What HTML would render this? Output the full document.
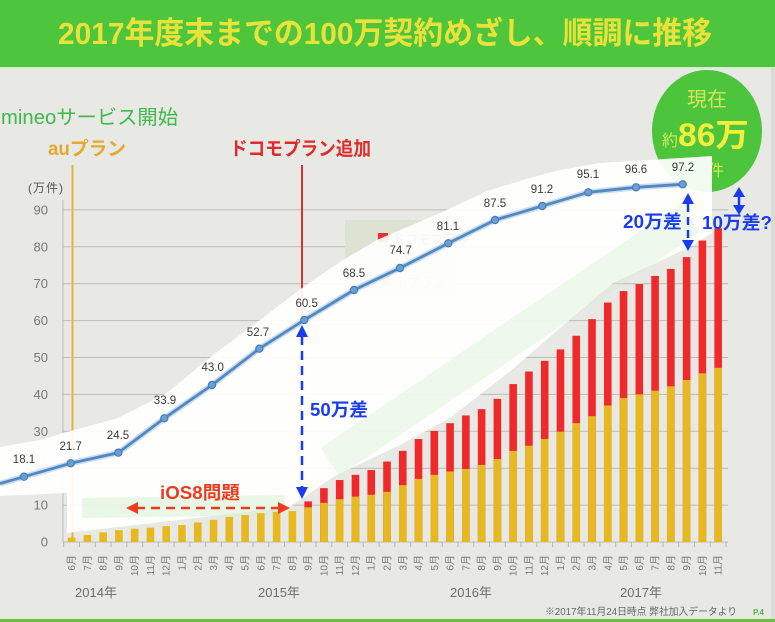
<!DOCTYPE html>
<html><head><meta charset="utf-8"><style>
html,body{margin:0;padding:0;background:#e8e8e4;}
svg{display:block;}
text{font-family:"Liberation Sans","Noto Sans CJK JP",sans-serif;}
</style></head><body>
<svg width="775" height="622" viewBox="0 0 775 622" xmlns="http://www.w3.org/2000/svg">
<rect x="0" y="0" width="775" height="622" fill="#e8e8e4"/>
<rect x="0" y="0" width="775" height="67" fill="#4dc53c"/>
<rect x="0" y="67" width="775" height="1.5" fill="#d8ecd0"/>
<text x="58" y="44" font-size="31" font-weight="bold" fill="#e8e23a" textLength="654" lengthAdjust="spacingAndGlyphs">2017年度末までの100万契約めざし、順調に推移</text>
<rect x="0" y="619" width="775" height="3" fill="#6cc040"/>
<rect x="771" y="68" width="4" height="551" fill="#dcdcd6"/>

<!-- gridlines -->
<g stroke="#bdbdb8" stroke-width="1">
<line x1="63" y1="209.9" x2="728" y2="209.9"/>
<line x1="63" y1="246.8" x2="728" y2="246.8"/>
<line x1="63" y1="283.7" x2="728" y2="283.7"/>
<line x1="63" y1="320.6" x2="728" y2="320.6"/>
<line x1="63" y1="357.5" x2="728" y2="357.5"/>
<line x1="63" y1="394.4" x2="728" y2="394.4"/>
<line x1="63" y1="431.3" x2="728" y2="431.3"/>
<line x1="63" y1="468.2" x2="728" y2="468.2"/>
<line x1="63" y1="505.1" x2="728" y2="505.1"/>
<line x1="63" y1="542" x2="728" y2="542"/>
<line x1="63" y1="200" x2="63" y2="542"/>
</g>
<g font-size="13" fill="#777" text-anchor="end">
<text x="48" y="214.4">90</text>
<text x="48" y="251.3">80</text>
<text x="48" y="288.2">70</text>
<text x="48" y="325.1">60</text>
<text x="48" y="362">50</text>
<text x="48" y="398.9">40</text>
<text x="48" y="435.8">30</text>
<text x="48" y="472.7">20</text>
<text x="48" y="509.6">10</text>
<text x="48" y="546.5">0</text>
</g>
<text x="28" y="192" font-size="12" fill="#555" textLength="35">(万件)</text>

<!-- event lines -->
<line x1="72.5" y1="165" x2="72.5" y2="542" stroke="#e3b440" stroke-width="2"/>
<line x1="302" y1="165" x2="302" y2="320" stroke="#e03030" stroke-width="2"/>

<!-- legend box (faint) -->
<rect x="345" y="220" width="110" height="75" fill="#dde2d3"/>
<rect x="378" y="233" width="10" height="9" fill="#f03030"/>
<text x="392" y="244" font-size="13" fill="#f06a6a">ドコモプラン</text>
<rect x="380" y="276" width="9" height="9" fill="#e8b820"/>
<text x="392" y="287" font-size="13" fill="#e8b860">auプラン</text>

<!-- circle -->
<ellipse cx="707" cy="131" rx="55" ry="61" fill="#4cc43c"/>
<text x="687" y="106" font-size="20" fill="#d6e85a" textLength="40">現在</text>
<text x="662" y="146" font-size="16" fill="#d6e85a">約</text>
<text x="678" y="146" font-size="32" font-weight="bold" fill="#f2f03c" textLength="71" lengthAdjust="spacingAndGlyphs">86万</text>
<text x="708" y="176" font-size="16" fill="#d6e85a">件</text>

<!-- white overlay -->
<polygon points="0,447 40,440 67,432 118,418 167,393 213,355 260,320 302,288 340,262 377,240 447,210 487,191 533,177 560,170 600,163 712,156 712,233 700,241 690,247 613,283 560,328 513,369 450,418 400,445 360,464 333,477 290,507 67,533 67,493 0,496" fill="#ffffff" fill-opacity="0.92"/>
<line x1="82" y1="508" x2="285" y2="505" stroke="#d4efcf" stroke-width="20" stroke-opacity="0.5"/>
<line x1="330" y1="462" x2="690" y2="218" stroke="#d4efcf" stroke-width="34" stroke-opacity="0.35"/>

<!-- bars: red full total, yellow au on top -->
<g fill="#f02a2a">
<rect x="304.35" y="501.41" width="7.6" height="40.59"/>
<rect x="320.12" y="488.13" width="7.6" height="53.87"/>
<rect x="335.89" y="480.01" width="7.6" height="61.99"/>
<rect x="351.66" y="474.84" width="7.6" height="67.16"/>
<rect x="367.43" y="470.05" width="7.6" height="71.95"/>
<rect x="383.2" y="461.56" width="7.6" height="80.44"/>
<rect x="398.97" y="450.86" width="7.6" height="91.14"/>
<rect x="414.74" y="439.05" width="7.6" height="102.95"/>
<rect x="430.51" y="430.93" width="7.6" height="111.07"/>
<rect x="446.28" y="423.18" width="7.6" height="118.82"/>
<rect x="462.05" y="415.43" width="7.6" height="126.57"/>
<rect x="477.82" y="409.16" width="7.6" height="132.84"/>
<rect x="493.59" y="398.83" width="7.6" height="143.17"/>
<rect x="509.36" y="384.07" width="7.6" height="157.93"/>
<rect x="525.13" y="371.52" width="7.6" height="170.48"/>
<rect x="540.9" y="360.82" width="7.6" height="181.18"/>
<rect x="556.67" y="349.38" width="7.6" height="192.62"/>
<rect x="572.44" y="335.73" width="7.6" height="206.27"/>
<rect x="588.21" y="319.12" width="7.6" height="222.88"/>
<rect x="603.98" y="302.52" width="7.6" height="239.48"/>
<rect x="619.75" y="291.08" width="7.6" height="250.92"/>
<rect x="635.52" y="284.07" width="7.6" height="257.93"/>
<rect x="651.29" y="275.95" width="7.6" height="266.05"/>
<rect x="667.06" y="268.94" width="7.6" height="273.06"/>
<rect x="682.83" y="257.13" width="7.6" height="284.87"/>
<rect x="698.6" y="240.53" width="7.6" height="301.47"/>
<rect x="714.37" y="228.35" width="7.6" height="313.65"/>
</g>
<g fill="#e8b820">
<rect x="67.8" y="537.57" width="7.6" height="4.43"/>
<rect x="83.57" y="534.99" width="7.6" height="7.01"/>
<rect x="99.34" y="532.41" width="7.6" height="9.59"/>
<rect x="115.11" y="530.19" width="7.6" height="11.81"/>
<rect x="130.88" y="528.72" width="7.6" height="13.28"/>
<rect x="146.65" y="527.61" width="7.6" height="14.39"/>
<rect x="162.42" y="526.13" width="7.6" height="15.87"/>
<rect x="178.19" y="525.03" width="7.6" height="16.97"/>
<rect x="193.96" y="522.44" width="7.6" height="19.56"/>
<rect x="209.73" y="519.86" width="7.6" height="22.14"/>
<rect x="225.5" y="516.91" width="7.6" height="25.09"/>
<rect x="241.27" y="515.06" width="7.6" height="26.94"/>
<rect x="257.04" y="513.22" width="7.6" height="28.78"/>
<rect x="272.81" y="511.74" width="7.6" height="30.26"/>
<rect x="288.58" y="511.0" width="7.6" height="31.0"/>
<rect x="304.35" y="507.31" width="7.6" height="34.69"/>
<rect x="320.12" y="502.89" width="7.6" height="39.11"/>
<rect x="335.89" y="499.2" width="7.6" height="42.8"/>
<rect x="351.66" y="496.61" width="7.6" height="45.39"/>
<rect x="367.43" y="494.77" width="7.6" height="47.23"/>
<rect x="383.2" y="491.82" width="7.6" height="50.18"/>
<rect x="398.97" y="485.17" width="7.6" height="56.83"/>
<rect x="414.74" y="478.9" width="7.6" height="63.1"/>
<rect x="430.51" y="474.84" width="7.6" height="67.16"/>
<rect x="446.28" y="471.52" width="7.6" height="70.48"/>
<rect x="462.05" y="468.94" width="7.6" height="73.06"/>
<rect x="477.82" y="464.88" width="7.6" height="77.12"/>
<rect x="493.59" y="458.98" width="7.6" height="83.02"/>
<rect x="509.36" y="450.86" width="7.6" height="91.14"/>
<rect x="525.13" y="445.69" width="7.6" height="96.31"/>
<rect x="540.9" y="439.05" width="7.6" height="102.95"/>
<rect x="556.67" y="431.67" width="7.6" height="110.33"/>
<rect x="572.44" y="423.18" width="7.6" height="118.82"/>
<rect x="588.21" y="416.17" width="7.6" height="125.83"/>
<rect x="603.98" y="405.47" width="7.6" height="136.53"/>
<rect x="619.75" y="398.09" width="7.6" height="143.91"/>
<rect x="635.52" y="394.4" width="7.6" height="147.6"/>
<rect x="651.29" y="390.71" width="7.6" height="151.29"/>
<rect x="667.06" y="386.28" width="7.6" height="155.72"/>
<rect x="682.83" y="380.01" width="7.6" height="161.99"/>
<rect x="698.6" y="373.37" width="7.6" height="168.63"/>
<rect x="714.37" y="367.83" width="7.6" height="174.17"/>
</g>

<!-- x axis ticks -->
<g stroke="#b5b5b0" stroke-width="1">
<line x1="63.7" y1="542" x2="63.7" y2="547"/><line x1="79.5" y1="542" x2="79.5" y2="547"/><line x1="95.3" y1="542" x2="95.3" y2="547"/><line x1="111" y1="542" x2="111" y2="547"/><line x1="126.8" y1="542" x2="126.8" y2="547"/><line x1="142.6" y1="542" x2="142.6" y2="547"/><line x1="158.3" y1="542" x2="158.3" y2="547"/><line x1="174.1" y1="542" x2="174.1" y2="547"/><line x1="189.9" y1="542" x2="189.9" y2="547"/><line x1="205.6" y1="542" x2="205.6" y2="547"/><line x1="221.4" y1="542" x2="221.4" y2="547"/><line x1="237.2" y1="542" x2="237.2" y2="547"/><line x1="253" y1="542" x2="253" y2="547"/><line x1="268.7" y1="542" x2="268.7" y2="547"/><line x1="284.5" y1="542" x2="284.5" y2="547"/><line x1="300.3" y1="542" x2="300.3" y2="547"/><line x1="316" y1="542" x2="316" y2="547"/><line x1="331.8" y1="542" x2="331.8" y2="547"/><line x1="347.6" y1="542" x2="347.6" y2="547"/><line x1="363.3" y1="542" x2="363.3" y2="547"/><line x1="379.1" y1="542" x2="379.1" y2="547"/><line x1="394.9" y1="542" x2="394.9" y2="547"/><line x1="410.7" y1="542" x2="410.7" y2="547"/><line x1="426.4" y1="542" x2="426.4" y2="547"/><line x1="442.2" y1="542" x2="442.2" y2="547"/><line x1="458" y1="542" x2="458" y2="547"/><line x1="473.7" y1="542" x2="473.7" y2="547"/><line x1="489.5" y1="542" x2="489.5" y2="547"/><line x1="505.3" y1="542" x2="505.3" y2="547"/><line x1="521" y1="542" x2="521" y2="547"/><line x1="536.8" y1="542" x2="536.8" y2="547"/><line x1="552.6" y1="542" x2="552.6" y2="547"/><line x1="568.4" y1="542" x2="568.4" y2="547"/><line x1="584.1" y1="542" x2="584.1" y2="547"/><line x1="599.9" y1="542" x2="599.9" y2="547"/><line x1="615.7" y1="542" x2="615.7" y2="547"/><line x1="631.4" y1="542" x2="631.4" y2="547"/><line x1="647.2" y1="542" x2="647.2" y2="547"/><line x1="663" y1="542" x2="663" y2="547"/><line x1="678.7" y1="542" x2="678.7" y2="547"/><line x1="694.5" y1="542" x2="694.5" y2="547"/><line x1="710.3" y1="542" x2="710.3" y2="547"/><line x1="726" y1="542" x2="726" y2="547"/>
</g>

<!-- line series -->
<polyline points="0,483.6 24,476.7 70.7,463.3 118.3,452.7 164.3,418.3 212,385 259.3,348.7 304.3,320 354,290 400,268 448.3,243.3 495,220 542.3,206 588.3,192.3 636,187.3 682.7,184.3" fill="none" stroke="#c9def2" stroke-width="6" stroke-linejoin="round"/>
<polyline points="0,483.6 24,476.7 70.7,463.3 118.3,452.7 164.3,418.3 212,385 259.3,348.7 304.3,320 354,290 400,268 448.3,243.3 495,220 542.3,206 588.3,192.3 636,187.3 682.7,184.3" fill="none" stroke="#5588bf" stroke-width="2.8" stroke-linejoin="round"/>
<g fill="#6a9fd4" stroke="#4a7db5" stroke-width="1.2">
<circle cx="24" cy="476.7" r="3.6"/><circle cx="70.7" cy="463.3" r="3.6"/><circle cx="118.3" cy="452.7" r="3.6"/><circle cx="164.3" cy="418.3" r="3.6"/><circle cx="212" cy="385" r="3.6"/><circle cx="259.3" cy="348.7" r="3.6"/><circle cx="304.3" cy="320" r="3.6"/><circle cx="354" cy="290" r="3.6"/><circle cx="400" cy="268" r="3.6"/><circle cx="448.3" cy="243.3" r="3.6"/><circle cx="495" cy="220" r="3.6"/><circle cx="542.3" cy="206" r="3.6"/><circle cx="588.3" cy="192.3" r="3.6"/><circle cx="636" cy="187.3" r="3.6"/><circle cx="682.7" cy="184.3" r="3.6"/>
</g>
<g font-size="11.5" fill="#3a3a3a" text-anchor="middle">
<text x="24" y="463">18.1</text><text x="70.7" y="450">21.7</text><text x="118" y="439">24.5</text><text x="165" y="404">33.9</text><text x="212.7" y="371">43.0</text><text x="258" y="336">52.7</text><text x="306.7" y="307">60.5</text><text x="354" y="277">68.5</text><text x="400.7" y="254">74.7</text><text x="448" y="230">81.1</text><text x="495" y="207">87.5</text><text x="542" y="193">91.2</text><text x="588" y="178">95.1</text><text x="636" y="173">96.6</text><text x="683" y="171">97.2</text>
</g>

<!-- annotations -->
<g stroke="#1a3cf0" stroke-width="2.5" fill="none">
<line x1="302" y1="336" x2="302" y2="488" stroke-dasharray="9 6"/>
<line x1="688" y1="204" x2="688" y2="240" stroke-dasharray="8 5"/>
<line x1="739" y1="196" x2="739" y2="206"/>
</g>
<g fill="#1a3cf0">
<polygon points="302,325 296,337 308,337"/>
<polygon points="302,499 296,487 308,487"/>
<polygon points="688,193 682,204 694,204"/>
<polygon points="688,251 682,240 694,240"/>
<polygon points="739,187 733,197 745,197"/>
<polygon points="739,215 733,205 745,205"/>
</g>
<g font-size="18" font-weight="bold" fill="#1a3cf0">
<text x="310" y="416" textLength="58" lengthAdjust="spacingAndGlyphs">50万差</text>
<text x="623" y="228" textLength="59" lengthAdjust="spacingAndGlyphs">20万差</text>
<text x="702" y="229" textLength="70" lengthAdjust="spacingAndGlyphs">10万差?</text>
</g>
<line x1="136" y1="508" x2="280" y2="508" stroke="#f03a1e" stroke-width="2.5" stroke-dasharray="9 6"/>
<polygon points="126,508 138,502 138,514" fill="#f03a1e"/>
<polygon points="290,508 278,502 278,514" fill="#f03a1e"/>
<text x="160" y="499" font-size="18" font-weight="bold" fill="#f03a1e" textLength="80" lengthAdjust="spacingAndGlyphs">iOS8問題</text>

<!-- top labels -->
<text x="1" y="124" font-size="20" fill="#3fb84c" textLength="177" lengthAdjust="spacingAndGlyphs">mineoサービス開始</text>
<text x="48" y="155" font-size="19" font-weight="bold" fill="#e3aa2e" textLength="78" lengthAdjust="spacingAndGlyphs">auプラン</text>
<text x="230" y="155" font-size="19" font-weight="bold" fill="#e02a2a" textLength="141" lengthAdjust="spacingAndGlyphs">ドコモプラン追加</text>

<!-- x labels -->
<g font-size="10" fill="#777" text-anchor="end">
<text transform="translate(75.1,555) rotate(-90)">6月</text>
<text transform="translate(90.9,555) rotate(-90)">7月</text>
<text transform="translate(106.6,555) rotate(-90)">8月</text>
<text transform="translate(122.4,555) rotate(-90)">9月</text>
<text transform="translate(138.2,555) rotate(-90)">10月</text>
<text transform="translate(154,555) rotate(-90)">11月</text>
<text transform="translate(169.7,555) rotate(-90)">12月</text>
<text transform="translate(185.5,555) rotate(-90)">1月</text>
<text transform="translate(201.3,555) rotate(-90)">2月</text>
<text transform="translate(217,555) rotate(-90)">3月</text>
<text transform="translate(232.8,555) rotate(-90)">4月</text>
<text transform="translate(248.6,555) rotate(-90)">5月</text>
<text transform="translate(264.3,555) rotate(-90)">6月</text>
<text transform="translate(280.1,555) rotate(-90)">7月</text>
<text transform="translate(295.9,555) rotate(-90)">8月</text>
<text transform="translate(311.7,555) rotate(-90)">9月</text>
<text transform="translate(327.4,555) rotate(-90)">10月</text>
<text transform="translate(343.2,555) rotate(-90)">11月</text>
<text transform="translate(359,555) rotate(-90)">12月</text>
<text transform="translate(374.7,555) rotate(-90)">1月</text>
<text transform="translate(390.5,555) rotate(-90)">2月</text>
<text transform="translate(406.3,555) rotate(-90)">3月</text>
<text transform="translate(422,555) rotate(-90)">4月</text>
<text transform="translate(437.8,555) rotate(-90)">5月</text>
<text transform="translate(453.6,555) rotate(-90)">6月</text>
<text transform="translate(469.4,555) rotate(-90)">7月</text>
<text transform="translate(485.1,555) rotate(-90)">8月</text>
<text transform="translate(500.9,555) rotate(-90)">9月</text>
<text transform="translate(516.7,555) rotate(-90)">10月</text>
<text transform="translate(532.4,555) rotate(-90)">11月</text>
<text transform="translate(548.2,555) rotate(-90)">12月</text>
<text transform="translate(564,555) rotate(-90)">1月</text>
<text transform="translate(579.7,555) rotate(-90)">2月</text>
<text transform="translate(595.5,555) rotate(-90)">3月</text>
<text transform="translate(611.3,555) rotate(-90)">4月</text>
<text transform="translate(627.1,555) rotate(-90)">5月</text>
<text transform="translate(642.8,555) rotate(-90)">6月</text>
<text transform="translate(658.6,555) rotate(-90)">7月</text>
<text transform="translate(674.4,555) rotate(-90)">8月</text>
<text transform="translate(690.1,555) rotate(-90)">9月</text>
<text transform="translate(705.9,555) rotate(-90)">10月</text>
<text transform="translate(721.7,555) rotate(-90)">11月</text>
</g>
<g font-size="13" fill="#6d6d6d">
<text x="75" y="597" textLength="42">2014年</text>
<text x="258" y="597" textLength="42">2015年</text>
<text x="450" y="597" textLength="42">2016年</text>
<text x="620" y="597" textLength="42">2017年</text>
</g>
<text x="545" y="615" font-size="10" fill="#666" textLength="192" lengthAdjust="spacingAndGlyphs">※2017年11月24日時点 弊社加入データより</text>
<text x="753" y="615" font-size="8" font-weight="bold" fill="#4cb848">P.4</text>
</svg>
</body></html>
